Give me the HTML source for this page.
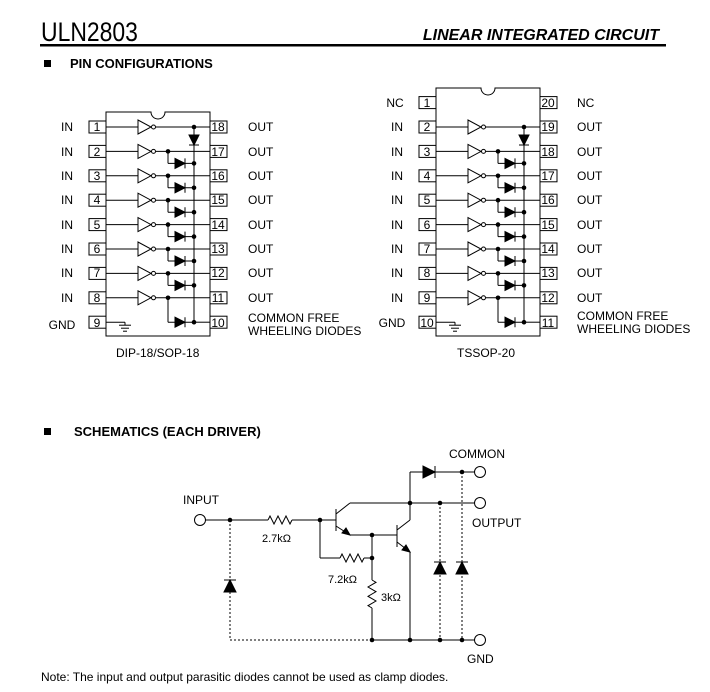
<!DOCTYPE html>
<html><head><meta charset="utf-8"><style>
body{margin:0;background:#fff;width:710px;height:692px;overflow:hidden}
svg{display:block}
text{font-family:"Liberation Sans",sans-serif;font-size:12px;fill:#000}
.b{font-weight:bold;font-size:13px}
</style></head><body>
<svg id="s" width="710" height="692" viewBox="0 0 710 692">
<text x="41" y="41" style="font-size:27px;font-family:'Liberation Sans Narrow','Liberation Sans',sans-serif" transform="translate(41 0) scale(0.85 1) translate(-41 0)">ULN2803</text>
<text x="659" y="40" text-anchor="end" style="font-size:16px;font-weight:bold;font-style:italic">LINEAR INTEGRATED CIRCUIT</text>
<rect x="40" y="44" width="626" height="2.5" fill="#000"/>
<rect x="44" y="60" width="7" height="7" fill="#000"/>
<text x="70" y="68" class="b">PIN CONFIGURATIONS</text>
<rect x="44" y="428" width="7" height="7" fill="#000"/>
<text x="74" y="436" class="b">SCHEMATICS (EACH DRIVER)</text>

<!-- DIP labels -->
<g text-anchor="middle">
<text x="67" y="131">IN</text><text x="67" y="156">IN</text><text x="67" y="180">IN</text><text x="67" y="204">IN</text><text x="67" y="229">IN</text><text x="67" y="253">IN</text><text x="67" y="277">IN</text><text x="67" y="302">IN</text><text x="62" y="329">GND</text>
<text x="97" y="131">1</text><text x="97" y="156">2</text><text x="97" y="180">3</text><text x="97" y="204">4</text><text x="97" y="229">5</text><text x="97" y="253">6</text><text x="97" y="277">7</text><text x="97" y="302">8</text><text x="97" y="327">9</text>
<text x="218" y="131">18</text><text x="218" y="156">17</text><text x="218" y="180">16</text><text x="218" y="204">15</text><text x="218" y="229">14</text><text x="218" y="253">13</text><text x="218" y="277">12</text><text x="218" y="302">11</text><text x="218" y="327">10</text>
</g>
<g>
<text x="248" y="131">OUT</text><text x="248" y="156">OUT</text><text x="248" y="180">OUT</text><text x="248" y="204">OUT</text><text x="248" y="229">OUT</text><text x="248" y="253">OUT</text><text x="248" y="277">OUT</text><text x="248" y="302">OUT</text>
<text x="248" y="322">COMMON FREE</text><text x="248" y="335">WHEELING DIODES</text>
<text x="116" y="357">DIP-18/SOP-18</text>
</g>
<!-- TSSOP labels -->
<g text-anchor="middle">
<text x="395" y="107">NC</text>
<text x="397" y="131">IN</text><text x="397" y="156">IN</text><text x="397" y="180">IN</text><text x="397" y="204">IN</text><text x="397" y="229">IN</text><text x="397" y="253">IN</text><text x="397" y="277">IN</text><text x="397" y="302">IN</text><text x="392" y="327">GND</text>
<text x="427" y="107">1</text><text x="427" y="131">2</text><text x="427" y="156">3</text><text x="427" y="180">4</text><text x="427" y="204">5</text><text x="427" y="229">6</text><text x="427" y="253">7</text><text x="427" y="277">8</text><text x="427" y="302">9</text><text x="427" y="327">10</text>
<text x="548" y="107">20</text><text x="548" y="131">19</text><text x="548" y="156">18</text><text x="548" y="180">17</text><text x="548" y="204">16</text><text x="548" y="229">15</text><text x="548" y="253">14</text><text x="548" y="277">13</text><text x="548" y="302">12</text><text x="548" y="327">11</text>
</g>
<g>
<text x="577" y="107">NC</text>
<text x="577" y="131">OUT</text><text x="577" y="156">OUT</text><text x="577" y="180">OUT</text><text x="577" y="204">OUT</text><text x="577" y="229">OUT</text><text x="577" y="253">OUT</text><text x="577" y="277">OUT</text><text x="577" y="302">OUT</text>
<text x="577" y="320">COMMON FREE</text><text x="577" y="333">WHEELING DIODES</text>
<text x="457" y="357">TSSOP-20</text>
</g>

<!-- schematic labels -->
<text x="183" y="504">INPUT</text>
<text x="449" y="458">COMMON</text>
<text x="472" y="527">OUTPUT</text>
<text x="467" y="663">GND</text>
<text x="262" y="542" style="font-size:11px">2.7kΩ</text>
<text x="328" y="583" style="font-size:11px">7.2kΩ</text>
<text x="381" y="601" style="font-size:11px">3kΩ</text>
<text x="41" y="681">Note: The input and output parasitic diodes cannot be used as clamp diodes.</text>
<g id="g" stroke="#000" fill="none" stroke-width="1"></g>
</svg>
<script>
const g=document.getElementById('g');let h='';
const L=(a,b,c,d,e)=>h+=`<line x1="${a}" y1="${b}" x2="${c}" y2="${d}"${e?' stroke-dasharray="2,2"':''}/>`;
const D=(x,y,r)=>h+=`<circle cx="${x}" cy="${y}" r="${r||2.3}" fill="#000" stroke="none"/>`;
const R=(x,y,w,hh)=>h+=`<rect x="${x}" y="${y}" width="${w}" height="${hh}"/>`;
const dR=(x,y,s)=>{h+=`<polygon points="${x-s},${y-s} ${x-s},${y+s} ${x+s},${y}" fill="#000"/>`;L(x+s,y-s,x+s,y+s);};
const dU=(x,y,s)=>{h+=`<polygon points="${x-s},${y+s} ${x+s},${y+s} ${x},${y-s}" fill="#000"/>`;L(x-s,y-s,x+s,y-s);};
const dD=(x,y,s)=>{h+=`<polygon points="${x-s},${y-s} ${x+s},${y-s} ${x},${y+s}" fill="#000"/>`;L(x-s,y+s,x+s,y+s);};
function chip(dx,top,extra){
  const Y=k=>127+(k-1)*24.4;
  const x0=106+dx,x1=210+dx,cx=158+dx;
  h+=`<path d="M${cx-7},${top} A7,7 0 0 0 ${cx+7},${top} L${x1},${top} L${x1},336 L${x0},336 L${x0},${top} Z"/>`;
  const ys=[];for(let k=1;k<=9;k++)ys.push(Y(k));
  if(extra)ys.unshift(102.6);
  for(const y of ys){R(89+dx,y-6,17,12);R(x1,y-6,17,12);}
  for(let k=1;k<=8;k++){const y=Y(k);
    L(x0,y,138+dx,y);
    h+=`<polygon points="${138+dx},${y-7} ${138+dx},${y+7} ${151+dx},${y}"/>`;
    h+=`<circle cx="${153.5+dx}" cy="${y}" r="2"/>`;
    if(k==1){L(156+dx,y,x1,y);D(194+dx,y);}
    else{L(156+dx,y,x1,y);D(168+dx,y);const yd=k==8?Y(9):y+12;L(168+dx,y,168+dx,yd);L(168+dx,yd,194+dx,yd);dR(180+dx,yd,5);D(194+dx,yd);}
  }
  L(194+dx,Y(1),194+dx,Y(9));dD(194+dx,Y(1)+13,5);
  L(194+dx,Y(9),x1,Y(9));
  const y9=Y(9);L(x0,y9,125+dx,y9);L(125+dx,y9,125+dx,y9+3);L(119+dx,y9+3,131+dx,y9+3);L(121+dx,y9+6,129+dx,y9+6);L(123+dx,y9+9,127+dx,y9+9);
}
chip(0,112,false);chip(330,88,true);
// schematic
const C=(x,y)=>h+=`<circle cx="${x}" cy="${y}" r="5.5" fill="#fff"/>`;
const zz=(x,y,w)=>{let p=`M${x},${y}`;const n=6;for(let i=1;i<=n;i++){p+=` L${x+w*i/n-w/(2*n)},${y+(i%2?-4:4)}`;}p+=` L${x+w},${y}`;h+=`<path d="${p}"/>`;};
const zv=(x,y,hh)=>{let p=`M${x},${y}`;const n=6;for(let i=1;i<=n;i++){p+=` L${x+(i%2?4:-4)},${y+hh*i/n-hh/(2*n)}`;}p+=` L${x},${y+hh}`;h+=`<path d="${p}"/>`;};
L(205,520,268,520);zz(268,520,24);L(292,520,336,520);D(230,520);D(320,520);
C(200,520);
// Q1
L(336,509,336,531);L(336,514,350,503);L(336,526,350,535);
h+=`<polygon points="350,535 342,533 346,528" fill="#000"/>`;
L(350,503,474,503);L(350,535,397,535);D(372,535);
// Q2
L(397,525,397,547);L(397,530,410,520);L(397,542,410,552);
h+=`<polygon points="410,552 402,550 406,545" fill="#000"/>`;
L(410,520,410,472);L(410,552,410,640);D(410,503);D(440,503);C(480,503);
// common
L(410,472,474,472);dR(429,472,6);D(462,472);C(480,472);
// 7.2k
L(320,520,320,558);L(320,558,340,558);zz(340,558,24);L(364,558,372,558);D(372,558);
L(372,535,372,580);zv(372,580,28);L(372,608,372,640);
// gnd
L(372,640,474,640);D(372,640);D(410,640);D(440,640);D(462,640);C(480,640);
L(230,520,230,640,1);L(230,640,372,640,1);dU(230,586,6);
L(440,503,440,640,1);dU(440,568,6);
L(462,472,462,640,1);dU(462,568,6);
g.innerHTML=h;
</script>
</body></html>
